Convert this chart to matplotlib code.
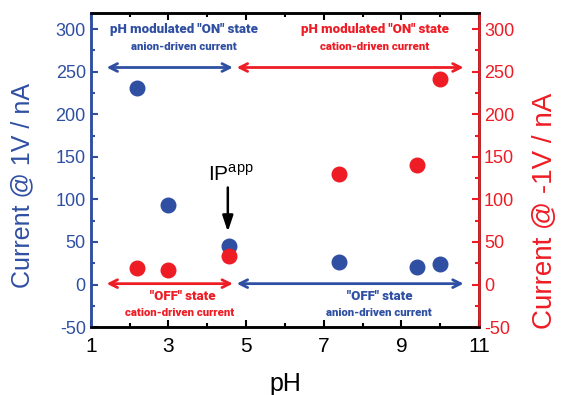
import matplotlib.pyplot as plt
from matplotlib.ticker import MultipleLocator

# data
ph = [2.2, 3.0, 4.55, 7.4, 9.4, 10.0]
cur_pos = [231, 93, 45, 26, 20, 24]     # current @ 1V (left axis)
cur_neg = [19, 17, 34, 130, 141, 241]   # current @ -1V (right axis)
xticks = [1, 3, 5, 7, 9, 11]

blue = '#2f4fa2'
red = '#ee1c24'

plt.rcParams['font.family'] = ['Liberation Sans', 'DejaVu Sans']
plt.rcParams['axes.unicode_minus'] = False

fig = plt.figure(figsize=(5.61, 3.95), dpi=100)
ax = fig.add_axes([0.1617, 0.172, 0.6923, 0.795])
ax2 = ax.twinx()

ax.scatter(ph, cur_pos, s=110, color=blue, zorder=3)
ax2.scatter(ph, cur_neg, s=110, color=red, zorder=3)

ax.set_xlim(1, 11)
ax.set_ylim(-50, 319)
ax2.set_ylim(-50, 319)

ax.set_xticks(xticks)
ax.xaxis.set_minor_locator(MultipleLocator(1))
ax.yaxis.set_major_locator(MultipleLocator(50))
ax.yaxis.set_minor_locator(MultipleLocator(25))
ax2.yaxis.set_major_locator(MultipleLocator(50))
ax2.yaxis.set_minor_locator(MultipleLocator(25))

ax.tick_params(axis='x', which='both', direction='in', top=True, labelsize=15,
               width=1.5, colors='black', pad=7)
ax.tick_params(axis='x', which='major', length=5)
ax.tick_params(axis='x', which='minor', length=3)
ax.tick_params(axis='y', which='both', direction='in', colors=blue, labelsize=13, width=1.5)
ax.tick_params(axis='y', which='major', length=5)
ax.tick_params(axis='y', which='minor', length=3)
ax2.tick_params(axis='y', which='both', direction='in', colors=red, labelsize=13, width=1.5)
ax2.tick_params(axis='y', which='major', length=5)
ax2.tick_params(axis='y', which='minor', length=3)

for a in (ax, ax2):
    for s in a.spines.values():
        s.set_linewidth(1.8)
ax2.spines['left'].set_color(blue)
ax2.spines['right'].set_color(red)
ax.spines['left'].set_color(blue)

ax.set_xlabel('pH', fontsize=18, labelpad=12)
ax.set_ylabel('Current @ 1V / nA', fontsize=18, color=blue)
ax2.set_ylabel('Current @ -1V / nA', fontsize=20, color=red)
ax.yaxis.set_label_coords(-0.145, 0.45)
ax2.yaxis.set_label_coords(1.135, 0.37)

# state arrows
def arrow(x0, x1, y, c):
    ax.annotate('', xy=(x0, y), xytext=(x1, y),
                arrowprops=dict(arrowstyle='<->', color=c, lw=2, mutation_scale=14,
                                shrinkA=0, shrinkB=0))

arrow(1.41, 4.66, 255, blue)
arrow(4.76, 10.6, 255, red)
arrow(1.41, 4.66, 1, red)
arrow(4.76, 10.6, 1, blue)

tf = dict(family=['Roboto', 'DejaVu Sans'], weight='heavy', ha='center', va='center')
ax.text(3.39, 300, 'pH modulated "ON" state', color=blue, fontsize=9.5, **tf)
ax.text(3.41, 279, 'anion-driven current', color=blue, fontsize=8.2, **tf)
ax.text(8.31, 300, 'pH modulated "ON" state', color=red, fontsize=9.5, **tf)
ax.text(8.31, 279, 'cation-driven current', color=red, fontsize=8.2, **tf)
ax.text(3.36, -14, '"OFF" state', color=red, fontsize=9.5, **tf)
ax.text(3.28, -33, 'cation-driven current', color=red, fontsize=8.2, **tf)
ax.text(8.45, -14, '"OFF" state', color=blue, fontsize=9.5, **tf)
ax.text(8.43, -33, 'anion-driven current', color=blue, fontsize=8.2, **tf)

# isoelectric point marker
ax.text(4.6, 129, r'IP$^{\mathregular{app}}$', fontsize=15, ha='center', va='center')
ax.annotate('', xy=(4.53, 62), xytext=(4.53, 114),
            arrowprops=dict(arrowstyle='-|>,head_width=0.2,head_length=0.6', color='black',
                            lw=1.8, mutation_scale=16, shrinkA=0, shrinkB=0))

fig.savefig('out.png', dpi=100)
